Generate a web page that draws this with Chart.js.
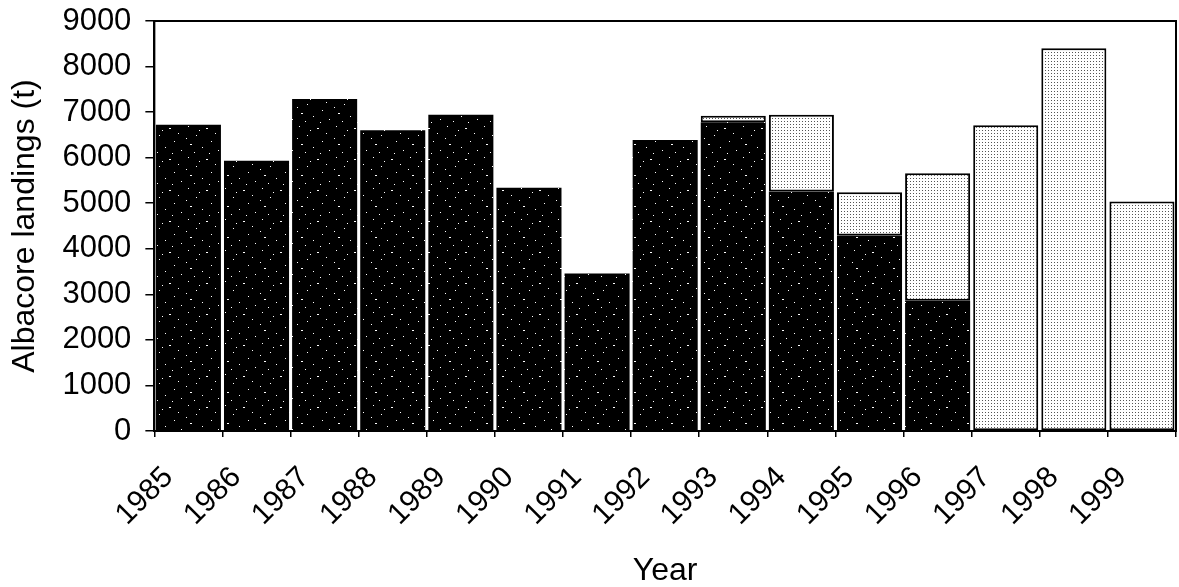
<!DOCTYPE html>
<html>
<head>
<meta charset="utf-8">
<script src="https://cdn.jsdelivr.net/npm/chart.js@4"></script>
<style>
  html, body { margin: 0; padding: 0; background: #fff; }
  #wrap { width: 1179px; height: 587px; position: relative; }
</style>
</head>
<body>
<div id="wrap"><canvas id="chart"></canvas></div>
<script>
// Albacore landings (t) by year, two stacked components
const years = ['1985', '1986', '1987', '1988', '1989', '1990', '1991', '1992',
               '1993', '1994', '1995', '1996', '1997', '1998', '1999'];
const darkPart = [6720, 5930, 7290, 6600, 6940, 5340, 3460, 6390,
                  6780, 5260, 4290, 2860, 0, 0, 0];
const lightPart = [0, 0, 0, 0, 0, 0, 0, 0,
                   140, 1680, 950, 2800, 6710, 8400, 5040];
const yTicks = [0, 1000, 2000, 3000, 4000, 5000, 6000, 7000, 8000, 9000];

// fill textures (speckled black, dotted white)
function makePattern(w, h, bg, fg, dots) {
    const c = document.createElement('canvas');
    c.width = w; c.height = h;
    const g = c.getContext('2d');
    g.fillStyle = bg;
    g.fillRect(0, 0, w, h);
    g.fillStyle = fg;
    dots.forEach(function(d) { g.fillRect(d[0], d[1], d[2] || 1, 1); });
    return g.createPattern(c, 'repeat');
}

const darkFill = makePattern(37, 31, '#000', '#fff',
    [[3, 2], [21, 4, 2], [30, 9], [11, 11], [26, 17], [5, 20, 2],
     [17, 23], [33, 26], [9, 28], [14, 6], [24, 29], [1, 14]]);
const lightFill = makePattern(3, 3, '#fff', '#555', [[1, 1]]);

// box around the plot area (top and right edges)
const frame = {
    id: 'frame',
    afterDraw: function(chart) {
        const a = chart.chartArea;
        const ctx = chart.ctx;
        ctx.save();
        ctx.strokeStyle = '#000';
        ctx.lineWidth = 2;
        ctx.strokeRect(a.left, a.top, a.right - a.left, a.bottom - a.top);
        ctx.restore();
    }
};

Chart.defaults.font.family = '"Liberation Sans", Arial, sans-serif';
Chart.defaults.color = '#000';

new Chart(document.getElementById('chart'), {
    type: 'bar',
    data: {
        labels: years,
        datasets: [{
            label: 'dark',
            data: darkPart,
            backgroundColor: darkFill,
            borderWidth: 0
        }, {
            label: 'light',
            data: lightPart,
            backgroundColor: lightFill,
            borderColor: '#000',
            borderWidth: 2,
            borderSkipped: false
        }]
    },
    options: {
        responsive: true,
        maintainAspectRatio: false,
        animation: false,
        layout: { padding: { left: 6, right: 3, top: 21, bottom: 0 } },
        datasets: { bar: { categoryPercentage: 1, barPercentage: 0.955 } },
        plugins: {
            legend: { display: false },
            tooltip: { enabled: false }
        },
        scales: {
            x: {
                stacked: true,
                offset: true,
                afterFit: function(s) {
                    s.paddingLeft = 0;
                    s.paddingRight = 0;
                    s.height = 156;
                },
                grid: {
                    offset: true,
                    drawOnChartArea: false,
                    color: '#000',
                    lineWidth: 1.5,
                    tickLength: 6
                },
                border: { color: '#000', width: 2 },
                ticks: {
                    minRotation: 45,
                    maxRotation: 45,
                    labelOffset: -20,
                    padding: 23,
                    font: { size: 30 }
                },
                title: {
                    display: true,
                    text: 'Year',
                    font: { size: 32, lineHeight: 1 },
                    padding: { top: 0, bottom: 0 }
                }
            },
            y: {
                stacked: true,
                min: 0,
                max: 9000,
                afterBuildTicks: function(axis) {
                    axis.ticks = yTicks.map(function(v) { return { value: v }; });
                },
                afterFit: function(s) {
                    s.paddingTop = 0;
                    s.paddingBottom = 0;
                },
                grid: {
                    drawOnChartArea: false,
                    color: '#000',
                    lineWidth: 1.5,
                    tickLength: 9
                },
                border: { color: '#000', width: 2 },
                ticks: {
                    padding: 14,
                    font: { size: 31 },
                    callback: function(v) { return String(v); }
                },
                title: {
                    display: true,
                    text: 'Albacore landings (t)',
                    font: { size: 32 },
                    padding: { top: 0, bottom: 4 }
                }
            }
        }
    },
    plugins: [frame]
});
</script>
</body>
</html>
